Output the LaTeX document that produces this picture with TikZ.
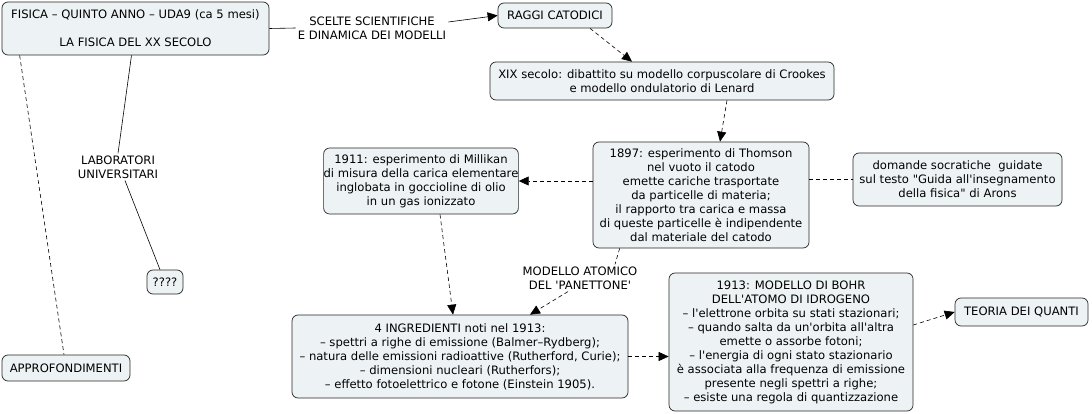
\documentclass[tikz,border=0pt]{standalone}
\usepackage{fontspec}
\setmainfont{DejaVu Sans}[Ligatures=TeXOff]
\usetikzlibrary{arrows.meta,calc}
\definecolor{boxfill}{HTML}{EDF3F5}
\newcommand{\cmfont}{\fontsize{11.6}{14}\selectfont}
\tikzset{
  box/.style={draw=black!85, fill=boxfill, rounded corners=6pt, align=center, font=\cmfont, inner sep=0pt, line width=0.7pt},
  lbl/.style={align=center, font=\cmfont, inner sep=2pt},
  dsh/.style={dash pattern=on 4pt off 3pt, line width=0.6pt},
  sol/.style={line width=0.6pt},
  arr/.style={-{Triangle[length=10pt,width=9pt]}}
}
\begin{document}
\begin{tikzpicture}[x=1pt,y=-1pt]
\useasboundingbox (0,0) rectangle (1092,414);
% boxes
\node[box, minimum width=267pt, minimum height=53pt] (top) at (135.5,28.5)
  {FISICA – QUINTO ANNO – UDA9 (ca 5 mesi)\\ \\LA FISICA DEL XX SECOLO};
\node[lbl] (scelte) at (372,28) {SCELTE SCIENTIFICHE\\E DINAMICA DEI MODELLI};
\node[box, minimum width=114pt, minimum height=25pt] (raggi) at (555,15.5) {RAGGI CATODICI};
\node[box, minimum width=344pt, minimum height=38pt] (xix) at (662,81)
  {XIX secolo: dibattito su modello corpuscolare di Crookes\\e modello ondulatorio di Lenard};
\node[box, minimum width=216pt, minimum height=106pt] (thomson) at (701,195)
  {1897: esperimento di Thomson\\nel vuoto il catodo\\emette cariche trasportate\\da particelle di materia;\\il rapporto tra carica e massa\\di queste particelle è indipendente\\dal materiale del catodo};
\node[box, minimum width=194pt, minimum height=66pt] (millikan) at (421,181)
  {1911: esperimento di Millikan\\di misura della carica elementare\\inglobata in goccioline di olio\\in un gas ionizzato};
\node[box, minimum width=209pt, minimum height=53pt] (arons) at (957.5,179.5)
  {domande socratiche\ \ guidate\\sul testo "Guida all'insegnamento\\della fisica" di Arons};
\node[lbl] (panettone) at (580,278) {MODELLO ATOMICO\\DEL 'PANETTONE'};
\node[box, minimum width=336pt, minimum height=83pt] (ingr) at (460,356.5)
  {4 INGREDIENTI noti nel 1913:\\– spettri a righe di emissione (Balmer–Rydberg);\\– natura delle emissioni radioattive (Rutherford, Curie);\\– dimensioni nucleari (Rutherfors);\\– effetto fotoelettrico e fotone (Einstein 1905).};
\node[box, minimum width=244pt, minimum height=138pt] (bohr) at (791,342)
  {1913: MODELLO DI BOHR\\DELL'ATOMO DI IDROGENO\\– l'elettrone orbita su stati stazionari;\\– quando salta da un'orbita all'altra\\emette o assorbe fotoni;\\– l'energia di ogni stato stazionario\\è associata alla frequenza di emissione\\presente negli spettri a righe;\\– esiste una regola di quantizzazione};
\node[box, minimum width=133pt, minimum height=28pt] (teoria) at (1021.5,312) {TEORIA DEI QUANTI};
\node[lbl] (labor) at (118,167) {LABORATORI\\UNIVERSITARI};
\node[box, minimum width=36pt, minimum height=24pt] (qm) at (165,282) {????};
\node[box, minimum width=128pt, minimum height=26pt] (approf) at (66,368) {APPROFONDIMENTI};
% connectors
\draw[sol] (top.east) -- (scelte.west);
\draw[sol,arr] ([yshift=6pt]scelte.east) -- (raggi.west);
\draw[dsh,arr] ([xshift=35pt]raggi.south) -- ([xshift=-30pt]xix.north);
\draw[dsh,arr] ([xshift=65pt]xix.south) -- ([xshift=19pt]thomson.north);
\draw[dsh,arr] (millikan.east -| thomson.west) -- (millikan.east);
\draw[dsh] (arons.west -| thomson.east) -- (arons.west);
\draw[dsh] ([xshift=27pt]thomson.south west) -- ([xshift=35pt]panettone.north);
\draw[dsh,arr] ([xshift=-12pt]panettone.south) -- ([xshift=70pt]ingr.north);
\draw[dsh,arr] ([xshift=19pt]millikan.south) -- ([xshift=-7pt]ingr.north);
\draw[dsh,arr] (ingr.east) -- (bohr.west |- ingr.east);
\draw[dsh,arr] ([yshift=17pt]bohr.east) -- (teoria.west);
\draw[sol] ([xshift=-4pt]top.south) -- (labor.north);
\draw[sol] ([xshift=7pt]labor.south) -- ([xshift=-5pt]qm.north);
\draw[dsh] ([xshift=18pt]top.south west) -- ([xshift=-2pt]approf.north);
\end{tikzpicture}
\end{document}
